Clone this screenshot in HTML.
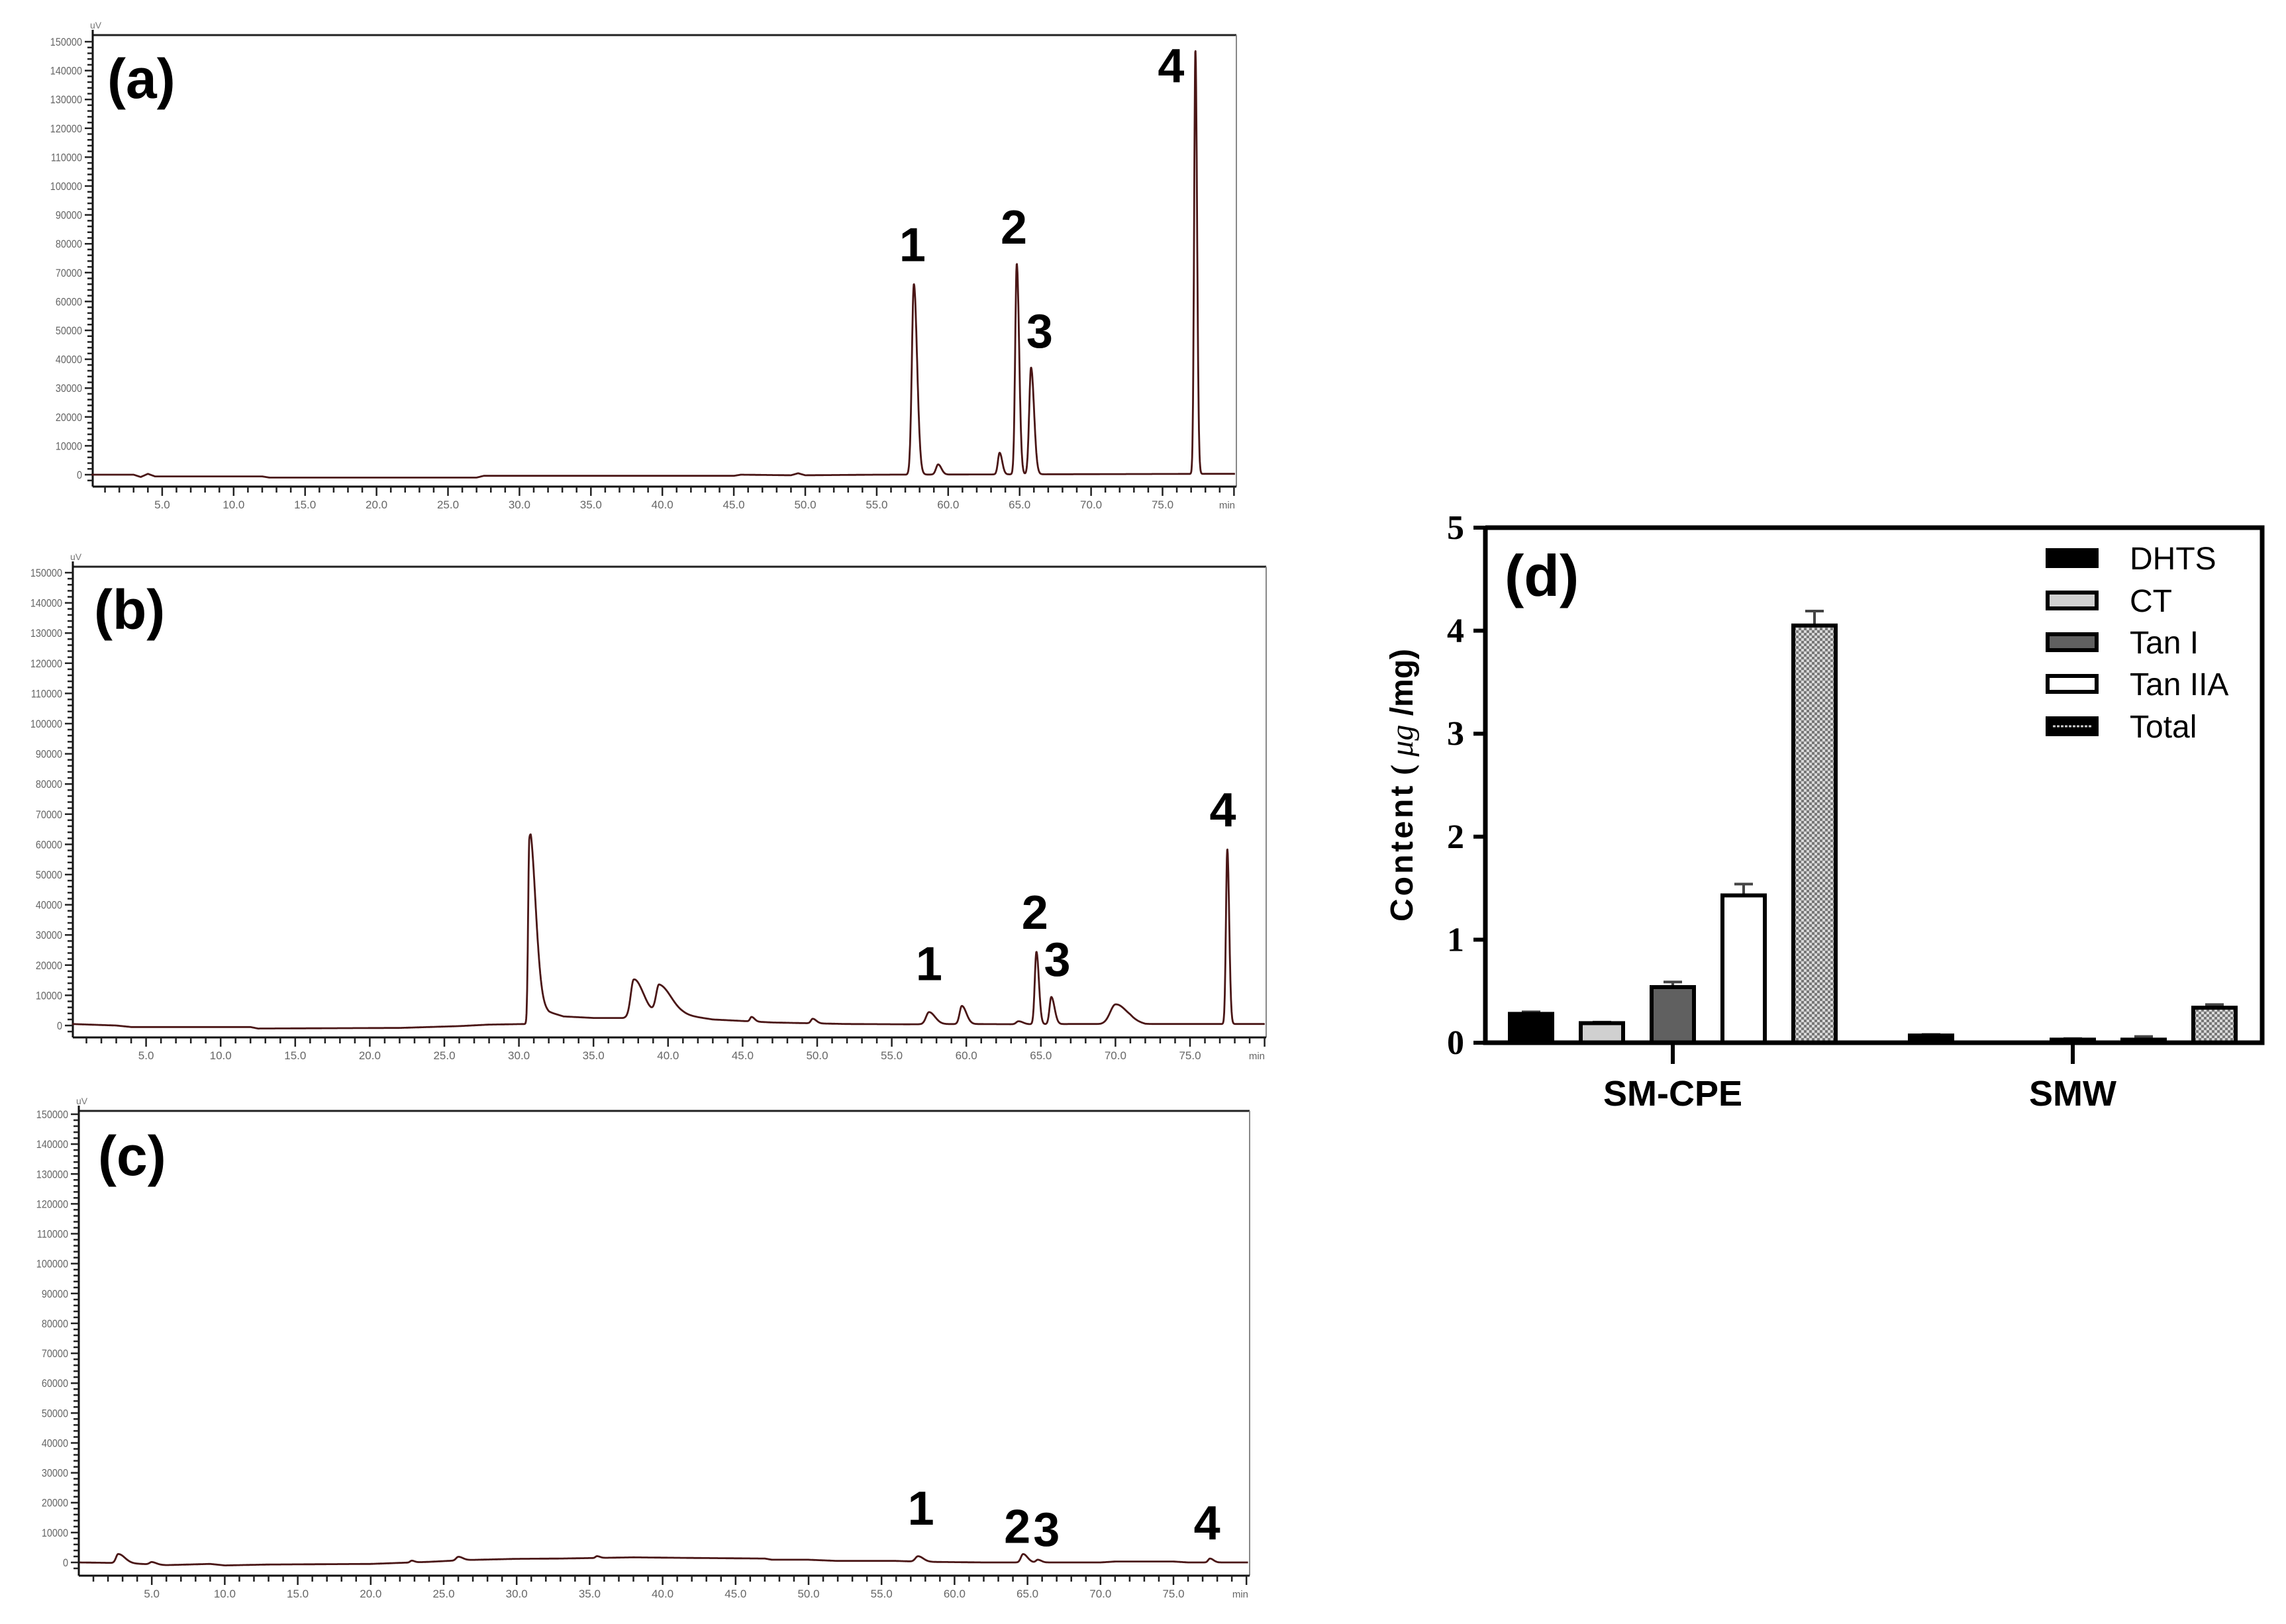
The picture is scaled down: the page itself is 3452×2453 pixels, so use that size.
<!DOCTYPE html>
<html><head><meta charset="utf-8">
<style>
html,body{margin:0;padding:0;background:#fff;}
svg{display:block;}
</style></head>
<body>
<svg id="fig" xmlns="http://www.w3.org/2000/svg" width="3452" height="2453" viewBox="0 0 3452 2453">
<defs>
<pattern id="checker" width="8" height="8" patternUnits="userSpaceOnUse">
<rect width="8" height="8" fill="#d8d8d8"/><rect width="4" height="4" fill="#777"/><rect x="4" y="4" width="4" height="4" fill="#777"/>
</pattern>
</defs>
<g id="chroms"></g>
<g id="bar"></g>
</svg>
<script>
// ---------- Chromatogram data ----------
// peaks: [retention time (min), height (uV), width (min), tail factor]
const peaksA = [[57.6,66000,0.14,1.6],[59.3,3500,0.15,1.5],[63.6,7500,0.12,1.5],[64.8,73000,0.11,1.5],[65.8,37000,0.13,1.6],[77.3,147000,0.09,1.3]];
const baseA = [[0,0],[3,0],[3.5,-800],[4,300],[4.5,-600],[12,-600],[12.5,-1000],[27,-1000],[27.5,-400],[45,-400],[45.5,0],[49,-200],[49.5,500],[50,-200],[55,0],[79,300]];
const labelsA = [["1",57.5,74000],["2",64.6,80000],["3",66.4,44000],["4",75.6,136000]];

const peaksB = [[30.7,56000,0.08,5],[37.7,12000,0.2,3],[39.4,9500,0.2,4],[45.6,1500,0.1,2],[49.7,1500,0.12,2],[57.5,4000,0.2,2],[59.7,6000,0.15,2],[63.5,1000,0.15,2],[64.7,24000,0.11,1.5],[65.7,9000,0.12,1.8],[70.0,6000,0.35,2],[77.5,58000,0.09,1.4]];
const baseB = [[0,500],[3,0],[4,-500],[12,-500],[12.5,-1000],[22,-800],[26,-200],[28,300],[30.5,500],[30.8,9000],[32,4500],[33,3000],[35,2500],[37,2500],[38.4,4000],[39,4000],[41,3500],[43,2000],[47,1000],[52,500],[56,400],[60,500],[64,400],[67,500],[69,500],[71,1500],[72,500],[76,500],[79,500]];
const labelsB = [["1",57.5,15000],["2",64.6,32000],["3",66.1,16500],["4",77.2,66000]];

const peaksC = [[2.7,3000,0.15,3],[5.0,800,0.15,2],[22.8,600,0.1,2],[26.0,1200,0.15,2],[35.5,600,0.1,2],[57.5,1800,0.18,2],[64.7,2800,0.15,2],[65.7,900,0.12,2],[77.5,1300,0.12,2]];
const baseC = [[0,0],[3,-200],[6,-900],[9,-500],[10,-1000],[13,-700],[20,-500],[24,200],[26.5,800],[30,1200],[33,1300],[38,1700],[42,1500],[47,1300],[47.5,900],[50,900],[52,500],[56,500],[58,200],[62,0],[70,0],[71,300],[75,300],[76,0],[79,0]];
const labelsC = [["1",57.7,12600],["2",64.3,6500],["3",66.3,5500],["4",77.3,7700]];

const xTickLabels = ["5.0","10.0","15.0","20.0","25.0","30.0","35.0","40.0","45.0","50.0","55.0","60.0","65.0","70.0","75.0"];
const yTickLabels = ["0","10000","20000","30000","40000","50000","60000","70000","80000","90000","100000","110000","120000","130000","140000","150000"];

// ---------- Bar chart data ----------
const groups = ["SM-CPE","SMW"];
const seriesNames = ["DHTS","CT","Tan I","Tan IIA","Total"];
const valsCPE = [0.28,0.19,0.54,1.43,4.05];
const errCPE = [0.02,0.01,0.05,0.11,0.14];
const valsSMW = [0.07,0,0.03,0.03,0.34];
const errSMW = [0.01,0,0.01,0.03,0.03];
const barTicks = [0,1,2,3,4,5];

const NS = "http://www.w3.org/2000/svg";
function mk(tag, attrs, parent){const e=document.createElementNS(NS,tag);for(const k in attrs)e.setAttribute(k,attrs[k]);if(parent)parent.appendChild(e);return e;}

function baseAt(base,t){
  for(let i=0;i<base.length-1;i++){
    if(t>=base[i][0]&&t<=base[i+1][0]){const f=(t-base[i][0])/(base[i+1][0]-base[i][0]);return base[i][1]+f*(base[i+1][1]-base[i][1]);}
  }
  return base[base.length-1][1];
}
function signal(peaks,base,t){
  let v=baseAt(base,t);
  for(const p of peaks){const w=t<p[0]?p[2]:p[2]*p[3];v+=p[1]*Math.exp(-0.5*((t-p[0])/w)**2);}
  return v;
}

function drawChrom(parentId, L, peaks, base, labels, name){
  const root=document.getElementById(parentId);
  const g=mk("g",{},root);
  
  
  const xs=t=>L.x0+t*L.pm;
  const ys=v=>L.y0-v*L.pv;
  const top=mk("line",{x1:L.left,y1:L.top,x2:L.right,y2:L.top,stroke:"#222","stroke-width":3},g);
  
  
  const rt=mk("line",{x1:L.right,y1:L.top,x2:L.right,y2:L.bottom,stroke:"#888","stroke-width":2},g);
  
  
  const ya=mk("line",{x1:L.left,y1:L.top-8,x2:L.left,y2:L.bottom,stroke:"#111","stroke-width":3},g);
  
  
  const xa=mk("line",{x1:L.left,y1:L.bottom,x2:L.right,y2:L.bottom,stroke:"#111","stroke-width":3},g);
  
  
  const uv=mk("text",{x:L.left-4,y:L.top-10,"font-size":14,fill:"#777","font-family":"Liberation Sans, sans-serif"},g);
  uv.textContent="uV";
  
  
  let tk="";
  for(let v=-2000;v<=150000;v+=2000){const y=ys(v);if(y>L.bottom-2||y<L.top)continue;const len=(v%10000===0)?12:8;tk+=`M${L.left-len},${y}H${L.left}`;}
  for(let t=1;t<=Math.floor((L.right-L.x0)/L.pm);t++){const x=xs(t);if(x>L.right)continue;const len=(t%5===0)?14:9;tk+=`M${x},${L.bottom}V${L.bottom+len}`;}
  const tp=mk("path",{d:tk,stroke:"#222","stroke-width":2.5,fill:"none"},g);
  
  
  yTickLabels.forEach((s,i)=>{
    const tx=mk("text",{x:L.left-16,y:ys(i*10000)+6,"font-size":17,fill:"#666","text-anchor":"end","font-family":"Liberation Sans, sans-serif",transform:`translate(${L.left-16},0) scale(0.85,1) translate(${-(L.left-16)},0)`},g);
    tx.textContent=s;
    
    
  });
  xTickLabels.forEach((s,i)=>{
    const tx=mk("text",{x:xs((i+1)*5),y:L.bottom+33,"font-size":17,fill:"#666","text-anchor":"middle","font-family":"Liberation Sans, sans-serif"},g);
    tx.textContent=s;
    
    
  });
  const mn=mk("text",{x:L.right-2,y:L.bottom+33,"font-size":15,fill:"#666","text-anchor":"end","font-family":"Liberation Sans, sans-serif"},g);
  mn.textContent="min";
  
  
  let d="";
  const tmax=(L.right-2-L.x0)/L.pm;
  for(let t=0.05;t<=tmax;t+=0.02){d+=(d?"L":"M")+xs(t).toFixed(1)+","+ys(signal(peaks,base,t)).toFixed(1);}
  const tr=mk("path",{d:d,stroke:"#4a1616","stroke-width":2.8,fill:"none","stroke-linejoin":"round"},g);
  
  
  const pl=mk("text",{x:L.lx,y:L.ly,"font-size":84,"font-weight":"bold",fill:"#000","font-family":"Liberation Sans, sans-serif"},g);
  pl.textContent="("+name+")";
  
  
  labels.forEach(l=>{
    const t=mk("text",{x:xs(l[1]),y:ys(l[2]),"font-size":72,"font-weight":"bold",fill:"#000","text-anchor":"middle","font-family":"Liberation Sans, sans-serif"},g);
    t.textContent=l[0];
    
    
  });
}

drawChrom("chroms",{left:140,right:1867,top:53,bottom:735,x0:137,pm:21.58,y0:717,pv:654/150000,lx:162,ly:148},peaksA,baseA,labelsA,"a");
drawChrom("chroms",{left:110,right:1912,top:856,bottom:1567,x0:108,pm:22.52,y0:1549,pv:684/150000,lx:142,ly:950},peaksB,baseB,labelsB,"b");
drawChrom("chroms",{left:119,right:1887,top:1678,bottom:2380,x0:119,pm:22.04,y0:2360,pv:677/150000,lx:148,ly:1775},peaksC,baseC,labelsC,"c");

// ---------- Bar chart ----------
(function(){
  const g=document.getElementById("bar");
  const X0=2243,X1=3416,Y0=1575,YT=797;
  const yS=v=>Y0-(v/5)*(Y0-YT);
  const groupCenters=[2526,3130];
  const step=107,bw=64;
  const fills=["#000","#d0d0d0","#606060","#fff","url(#checker)"];
  const gv=[valsCPE,valsSMW],ge=[errCPE,errSMW];
  groups.forEach((gn,gi)=>{
    seriesNames.forEach((sn,si)=>{
      const v=gv[gi][si];
      const cx=groupCenters[gi]+(si-2)*step;
      if(v<=0)return;
      const e=ge[gi][si];
      const eb=mk("path",{d:`M${cx},${yS(v)}V${yS(v+e)}M${cx-14},${yS(v+e)}H${cx+14}`,stroke:"#444","stroke-width":4,fill:"none"},g);
      
      
      const r=mk("rect",{x:cx-bw/2,y:yS(v),width:bw,height:Y0-yS(v),fill:fills[si],stroke:"#000","stroke-width":6},g);
      
      
    });
    const ct=mk("line",{x1:groupCenters[gi],y1:Y0,x2:groupCenters[gi],y2:Y0+32,stroke:"#000","stroke-width":6},g);
    
    
    const cl=mk("text",{x:groupCenters[gi],y:1670,"font-size":54,"font-weight":"bold","text-anchor":"middle",fill:"#000","font-family":"Liberation Sans, sans-serif"},g);
    cl.textContent=gn;
    
    
  });
  const fr=mk("path",{d:`M${X0},${YT}V${Y0}H${X1}V${YT}H${X0}`,stroke:"#000","stroke-width":7,fill:"none"},g);
  
  
  barTicks.forEach(t=>{
    const tl=mk("line",{x1:X0-18,y1:yS(t),x2:X0,y2:yS(t),stroke:"#000","stroke-width":6},g);
    
    
    const tx=mk("text",{x:2211,y:yS(t)+17,"font-size":52,"font-weight":"bold","text-anchor":"end",fill:"#000","font-family":"Liberation Serif, serif"},g);
    tx.textContent=String(t);
    
    
  });
  const yt=mk("text",{x:0,y:0,"font-size":48,"font-weight":"bold",fill:"#000","text-anchor":"middle","font-family":"Liberation Sans, sans-serif",transform:"translate(2133,1186) rotate(-90)"},g);
  yt.innerHTML='<tspan letter-spacing="4">Content</tspan><tspan font-family="Liberation Serif, serif"> ( </tspan><tspan font-style="italic" font-family="Liberation Serif, serif" font-weight="normal">μg</tspan><tspan> /mg)</tspan>';
  
  
  const dl=mk("text",{x:2272,y:900,"font-size":88,"font-weight":"bold",fill:"#000","font-family":"Liberation Sans, sans-serif"},g);
  dl.textContent="(d)";
  
  
  const lyc=[843,907,970,1033,1097];
  seriesNames.forEach((sn,i)=>{
    const lr=mk("rect",{x:3092,y:lyc[i]-12,width:74,height:24,fill:i===4?"#000":fills[i],stroke:"#000","stroke-width":6},g);
    
    
    if(i===4){const w=mk("line",{x1:3100,y1:lyc[i],x2:3158,y2:lyc[i],stroke:"#ccc","stroke-width":3,"stroke-dasharray":"4 2"},g);
      
      }
    const lt=mk("text",{x:3216,y:lyc[i]+17,"font-size":48,fill:"#000","font-family":"Liberation Sans, sans-serif"},g);
    lt.textContent=sn;
    
    
  });
})();
</script>
</body></html>
